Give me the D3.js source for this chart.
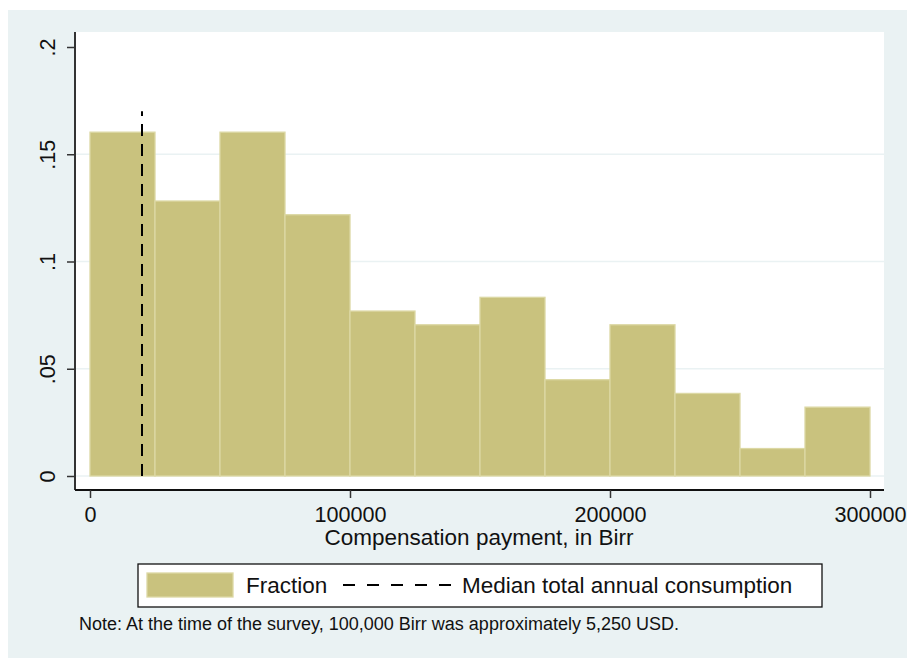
<!DOCTYPE html>
<html>
<head>
<meta charset="utf-8">
<script src="https://cdn.jsdelivr.net/npm/d3@7/dist/d3.min.js"></script>
<style>
  html, body { margin: 0; padding: 0; background: #ffffff; }
  svg { display: block; font-family: "Liberation Sans", Arial, sans-serif; }
</style>
</head>
<body>
<svg id="chart" width="907" height="659"></svg>
<script>
// ---- data ----
const binStarts = [0, 25000, 50000, 75000, 100000, 125000, 150000, 175000, 200000, 225000, 250000, 275000];
const binEnds   = [25000, 50000, 75000, 100000, 125000, 150000, 175000, 200000, 225000, 250000, 275000, 300000];
const fractions = [0.1603, 0.1282, 0.1603, 0.1218, 0.0769, 0.0705, 0.0833, 0.0449, 0.0705, 0.0385, 0.0128, 0.0321];
const medianConsumption = 20000;
const medianLineTop = 0.17;
const xTicks = [0, 100000, 200000, 300000];
const xTickLabels = ["0", "100000", "200000", "300000"];
const yTicks = [0, 0.05, 0.1, 0.15, 0.2];
const yTickLabels = ["0", ".05", ".1", ".15", ".2"];
const xTitle = "Compensation payment, in Birr";
const legendLabels = ["Fraction", "Median total annual consumption"];
const noteText = "Note: At the time of the survey, 100,000 Birr was approximately 5,250 USD.";

// ---- styles ----
const outerBg = "#eaf2f3";
const barFill = "#c9c27e";
const barStroke = "#dcd8a4";
const gridColor = "#eaf2f3";
const tickFont = 21.6;
const labelFont = 22.5;

const svg = d3.select("#chart");

// outer background
svg.append("rect").attr("x", 8).attr("y", 10).attr("width", 899).attr("height", 648).attr("fill", outerBg);

// plot region
const plot = { left: 75, right: 884, top: 32, bottom: 490 };
svg.append("rect").attr("x", plot.left).attr("y", plot.top)
  .attr("width", plot.right - plot.left).attr("height", plot.bottom - plot.top).attr("fill", "#ffffff");

const x = d3.scaleLinear().domain([0, 300000]).range([90, 870]);
const y = d3.scaleLinear().domain([0, 0.2]).range([476, 47]);

// gridlines (not at top)
svg.append("g").selectAll("line").data(yTicks.filter(t => t < 0.2)).join("line")
  .attr("x1", plot.left).attr("x2", plot.right)
  .attr("y1", d => y(d)).attr("y2", d => y(d))
  .attr("stroke", gridColor).attr("stroke-width", 1.5);

// bars
const bins = binStarts.map((s, i) => ({ x0: s, x1: binEnds[i], v: fractions[i] }));
svg.append("g").selectAll("rect").data(bins).join("rect")
  .attr("x", d => x(d.x0))
  .attr("y", d => y(d.v))
  .attr("width", d => x(d.x1) - x(d.x0))
  .attr("height", d => y(0) - y(d.v))
  .attr("fill", barFill)
  .attr("stroke", barStroke)
  .attr("stroke-width", 1.3);

// median line
svg.append("line")
  .attr("x1", x(medianConsumption)).attr("x2", x(medianConsumption))
  .attr("y1", y(0)).attr("y2", y(medianLineTop))
  .attr("stroke", "#000").attr("stroke-width", 2)
  .attr("stroke-dasharray", "12,8");

// y axis
const yAxis = d3.axisLeft(y).tickValues(yTicks).tickSize(8).tickFormat((d, i) => yTickLabels[i]);
const gy = svg.append("g").attr("transform", `translate(${plot.left},0)`).call(yAxis);
gy.select(".domain").attr("d", `M0,${plot.top}V${plot.bottom}`).attr("stroke", "#333").attr("stroke-width", 2);
gy.selectAll(".tick line").attr("stroke", "#333").attr("stroke-width", 1.5);
gy.selectAll(".tick text")
  .attr("x", null).attr("dy", null)
  .attr("transform", "translate(-20,0) rotate(-90)")
  .attr("text-anchor", "middle")
  .attr("font-size", tickFont).attr("fill", "#111")
  .attr("font-family", "Liberation Sans, Arial, sans-serif");

// x axis
const xAxis = d3.axisBottom(x).tickValues(xTicks).tickSize(8).tickFormat((d, i) => xTickLabels[i]);
const gx = svg.append("g").attr("transform", `translate(0,${plot.bottom})`).call(xAxis);
gx.select(".domain").attr("d", `M${plot.left},0H${plot.right}`).attr("stroke", "#111").attr("stroke-width", 2);
gx.selectAll(".tick line").attr("stroke", "#333").attr("stroke-width", 1.5);
gx.selectAll(".tick text")
  .attr("y", 32).attr("dy", null)
  .attr("font-size", tickFont).attr("fill", "#111")
  .attr("font-family", "Liberation Sans, Arial, sans-serif");

// x title
svg.append("text").attr("x", 479).attr("y", 545)
  .attr("text-anchor", "middle").attr("font-size", labelFont).attr("fill", "#111")
  .text(xTitle);

// legend
const lg = svg.append("g");
lg.append("rect").attr("x", 138).attr("y", 564).attr("width", 684).attr("height", 43)
  .attr("fill", "#fff").attr("stroke", "#111").attr("stroke-width", 1.3);
lg.append("rect").attr("x", 147).attr("y", 573).attr("width", 86).attr("height", 24)
  .attr("fill", barFill).attr("stroke", barStroke).attr("stroke-width", 1.3);
lg.append("text").attr("x", 246).attr("y", 593).attr("font-size", labelFont).attr("fill", "#111").text(legendLabels[0]);
lg.append("line").attr("x1", 343).attr("x2", 451).attr("y1", 585).attr("y2", 585)
  .attr("stroke", "#000").attr("stroke-width", 2).attr("stroke-dasharray", "12,12");
lg.append("text").attr("x", 462).attr("y", 593).attr("font-size", labelFont).attr("fill", "#111").text(legendLabels[1]);

// note
svg.append("text").attr("x", 79).attr("y", 630).attr("font-size", 18).attr("fill", "#111").text(noteText);
</script>
</body>
</html>
